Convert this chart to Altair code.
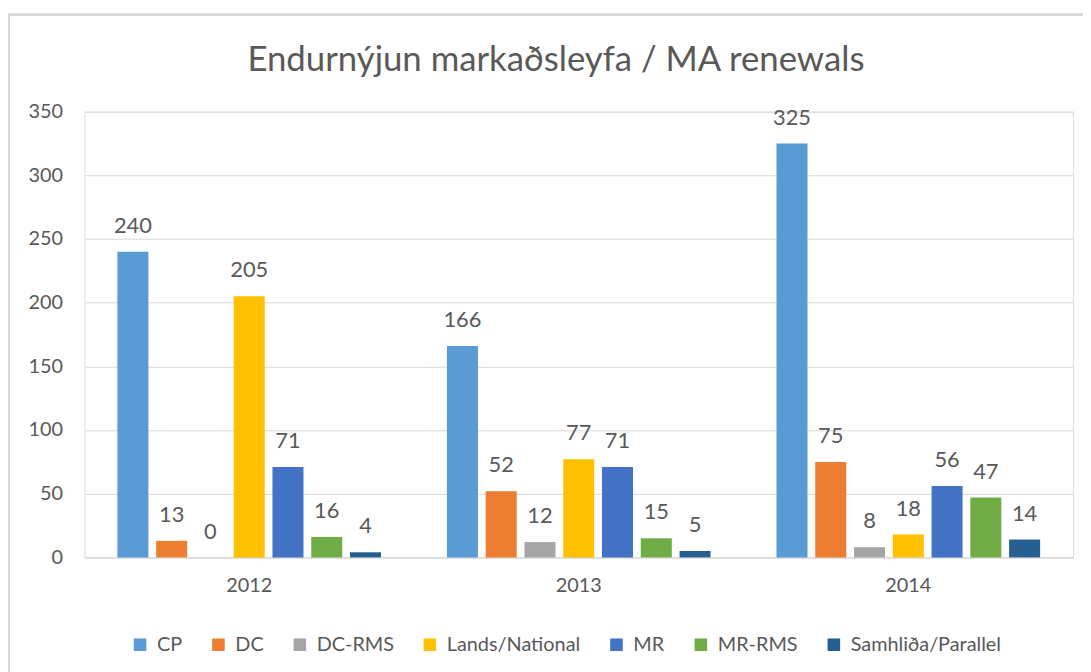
import altair as alt
import pandas as pd

years = ["2012", "2013", "2014"]
series = ["CP", "DC", "DC-RMS", "Lands/National", "MR", "MR-RMS", "Samhliða/Parallel"]
colors = ["#5B9BD5", "#ED7D31", "#A5A5A5", "#FFC000", "#4472C4", "#70AD47", "#255E91"]
cp = [240, 166, 325]
dc = [13, 52, 75]
dc_rms = [0, 12, 8]
lands = [205, 77, 18]
mr = [71, 71, 56]
mr_rms = [16, 15, 47]
parallel = [4, 5, 14]

values = [cp, dc, dc_rms, lands, mr, mr_rms, parallel]
rows = []
for s, vals in zip(series, values):
    for y, v in zip(years, vals):
        rows.append({"year": y, "series": s, "value": v})
df = pd.DataFrame(rows)

FONT = "Lato"
TXT = "#595959"
GRID = "#D9D9D9"

x = alt.X("year:N", title=None, sort=years,
          scale=alt.Scale(paddingInner=0.2, paddingOuter=0.1),
          axis=alt.Axis(labelAngle=0, ticks=False, domainColor=GRID, labelPadding=18,
                        labelFontSize=20, labelColor=TXT, labelFont=FONT))
xo = alt.XOffset("series:N", sort=series, scale=alt.Scale(paddingInner=0.2, paddingOuter=0))
y = alt.Y("value:Q", title=None,
          scale=alt.Scale(domain=[0, 350], nice=False),
          axis=alt.Axis(values=list(range(0, 351, 50)), domain=False, ticks=False,
                        gridColor=GRID, labelPadding=22, labelFontSize=20,
                        labelColor=TXT, labelFont=FONT))

color = alt.Color("series:N", sort=series, title=None,
                  scale=alt.Scale(domain=series, range=colors),
                  legend=alt.Legend(orient="none", direction="horizontal",
                                    legendX=46, legendY=527,
                                    symbolType="square", symbolSize=160,
                                    symbolStrokeWidth=0, labelFontSize=20,
                                    labelColor=TXT, labelFont=FONT,
                                    columnPadding=26, labelOffset=7))

bars = alt.Chart(df).mark_bar().encode(x=x, xOffset=xo, y=y, color=color)
labels = alt.Chart(df).mark_text(baseline="alphabetic", dy=-19, fontSize=22,
                                 color=TXT, font=FONT).encode(
    x=x, xOffset=xo, y=y, text="value:Q")

frame = alt.Chart(df).mark_rect(fill=None, stroke=GRID, strokeWidth=2).encode(
    x=alt.value(-76), x2=alt.value(1040), y=alt.value(-98), y2=alt.value(620))

chart = alt.layer(frame, bars, labels).properties(
    width=996, height=449,
    title=alt.TitleParams("Endurnýjun markaðsleyfa / MA renewals", fontSize=35,
                          font=FONT, color=TXT, fontWeight="normal",
                          anchor="middle", dx=-23, offset=-65),
    autosize=alt.AutoSizeParams(type="none"),
    padding={"left": 77, "top": 102, "right": 10, "bottom": 113},
).configure_view(stroke=None).configure(background="white")

chart.save("out.html", embed_options={"renderer": "svg", "actions": False})
